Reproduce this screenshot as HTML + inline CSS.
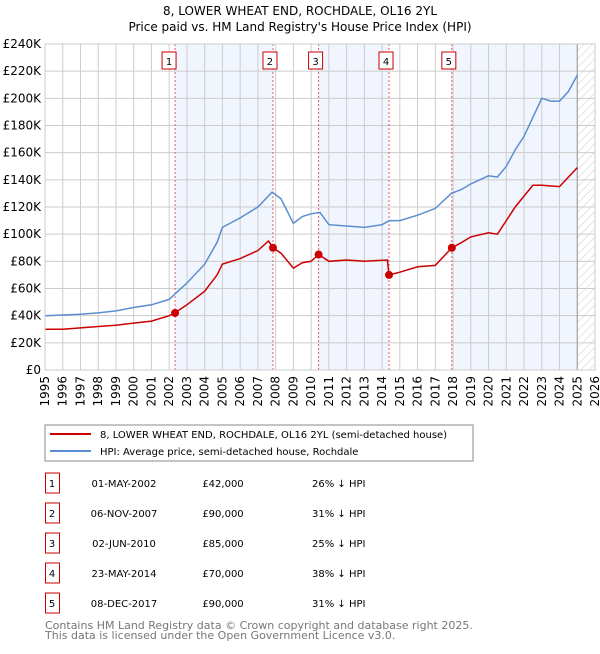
<!DOCTYPE html>
<html><head><meta charset="utf-8"><style>
body{margin:0;background:#fff;font-family:"DejaVu Sans","Liberation Sans",sans-serif;}
svg text{font-family:"DejaVu Sans","Liberation Sans",sans-serif;}
</style></head><body>
<svg id="c" width="600" height="650" xmlns="http://www.w3.org/2000/svg">
<defs><pattern id="hatch" width="6" height="6" patternUnits="userSpaceOnUse" patternTransform="rotate(45)"><line x1="0" y1="0" x2="0" y2="6" stroke="#ccc" stroke-width="1"/></pattern></defs>
<text x="300" y="15" text-anchor="middle" font-size="12">8, LOWER WHEAT END, ROCHDALE, OL16 2YL</text>
<text x="300" y="31" text-anchor="middle" font-size="12">Price paid vs. HM Land Registry's House Price Index (HPI)</text>
<g id="plot"></g>
<rect x="45" y="425" width="428" height="36" fill="#fff" stroke="#888"/>
<line x1="50" y1="434" x2="91" y2="434" stroke="#cc0000" stroke-width="2"/>
<text x="100" y="438" font-size="10">8, LOWER WHEAT END, ROCHDALE, OL16 2YL (semi-detached house)</text>
<line x1="50" y1="451" x2="91" y2="451" stroke="#5b8ed0" stroke-width="2"/>
<text x="100" y="455" font-size="10">HPI: Average price, semi-detached house, Rochdale</text>
<g id="table"></g>
<text x="45" y="629" font-size="11" fill="#777">Contains HM Land Registry data © Crown copyright and database right 2025.</text>
<text x="45" y="639" font-size="11" fill="#777">This data is licensed under the Open Government Licence v3.0.</text>
</svg>
<script>
const hpiYears=[1995,1996,1997,1998,1999,2000,2001,2002,2002.33,2003,2004,2004.7,2005,2006,2007,2007.8,2008.3,2009,2009.5,2010,2010.5,2011,2012,2013,2014,2014.4,2015,2016,2017,2017.9,2018.5,2019,2020,2020.5,2021,2021.5,2022,2022.5,2023,2023.5,2024,2024.5,2025];
const hpiValues=[40,40.5,41,42,43.5,46,48,52,56,64,78,94,105,112,120,131,126,108,113,115,116,107,106,105,107,110,110,114,119,130,133,137,143,142,150,162,172,186,200,198,198,205,217];
const priceYears=[1995,1996,1997,1998,1999,2000,2001,2002,2002.33,2003,2004,2004.7,2005,2006,2007,2007.6,2007.85,2008.3,2009,2009.5,2010,2010.42,2011,2012,2013,2014.3,2014.39,2015,2016,2017,2017.93,2018.5,2019,2020,2020.5,2021,2021.5,2022,2022.5,2023,2024,2024.5,2025];
const priceValues=[30,30,31,32,33,34.5,36,40,42,48,58,70,78,82,88,95,90,86,75,79,80,85,80,81,80,81,70,72,76,77,90,94,98,101,100,110,120,128,136,136,135,142,149];
const saleLabels=["1","2","3","4","5"];
const saleYears=[2002.33,2007.85,2010.42,2014.39,2017.93];
const salePrices=[42,90,85,70,90];
const saleDates=["01-MAY-2002","06-NOV-2007","02-JUN-2010","23-MAY-2014","08-DEC-2017"];
const salePriceText=["£42,000","£90,000","£85,000","£70,000","£90,000"];
const saleHpiText=["26% ↓ HPI","31% ↓ HPI","25% ↓ HPI","38% ↓ HPI","31% ↓ HPI"];
const yTicks=[0,20,40,60,80,100,120,140,160,180,200,220,240];
const yTickLabels=["£0","£20K","£40K","£60K","£80K","£100K","£120K","£140K","£160K","£180K","£200K","£220K","£240K"];
const xTicks=[1995,1996,1997,1998,1999,2000,2001,2002,2003,2004,2005,2006,2007,2008,2009,2010,2011,2012,2013,2014,2015,2016,2017,2018,2019,2020,2021,2022,2023,2024,2025,2026];

const NS="http://www.w3.org/2000/svg";
const X0=45,X1=595,Y0=370,Y1=44;
const xs=y=>X0+(y-1995)/(2026-1995)*(X1-X0);
const ys=v=>Y0-v/240*(Y0-Y1);
const plot=document.getElementById('plot');
function mk(tag,attrs,parent){const e=document.createElementNS(NS,tag);for(const k in attrs)e.setAttribute(k,attrs[k]);(parent||plot).appendChild(e);return e;}

let e=mk('rect',{x:X0,y:Y1,width:X1-X0,height:Y0-Y1,fill:'#fff'});


const shades=[[0,1],[2,3]];
shades.forEach(([a,b])=>{const r=mk('rect',{x:xs(saleYears[a]),y:Y1,width:xs(saleYears[b])-xs(saleYears[a]),height:Y0-Y1,fill:'#eef3fc',opacity:0.8});

});
e=mk('rect',{x:xs(saleYears[4]),y:Y1,width:xs(2025)-xs(saleYears[4]),height:Y0-Y1,fill:'#eef3fc',opacity:0.8});


e=mk('rect',{x:xs(2025),y:Y1,width:X1-xs(2025),height:Y0-Y1,fill:'url(#hatch)'});



xTicks.forEach(t=>{const l=mk('line',{x1:xs(t),x2:xs(t),y1:Y1,y2:Y0,stroke:'#ccc','stroke-width':1});


const px=xs(t)+4,py=Y0+6;
const tx=mk('text',{x:px,y:py,'text-anchor':'end','font-size':12,transform:`rotate(-90 ${px} ${py})`});tx.textContent=t;

});
yTicks.forEach((t,i)=>{const l=mk('line',{x1:X0,x2:X1,y1:ys(t),y2:ys(t),stroke:'#ccc','stroke-width':1});


const tx=mk('text',{x:X0-4,y:ys(t)+4,'text-anchor':'end','font-size':12});tx.textContent=yTickLabels[i];

});
e=mk('line',{x1:xs(2025),x2:xs(2025),y1:Y1,y2:Y0,stroke:'#999','stroke-width':1});



saleYears.forEach((y,i)=>{const l=mk('line',{x1:xs(y),x2:xs(y),y1:Y1,y2:Y0,stroke:'#e06060','stroke-width':1,'stroke-dasharray':'2,2'});


const b=mk('rect',{x:xs(y)-10-(i==0?3:0),y:52,width:14,height:17,fill:'#fff',stroke:'#cc0000'});


const t=mk('text',{x:xs(y)-3-(i==0?3:0),y:65,'text-anchor':'middle','font-size':10});t.textContent=saleLabels[i];

});

const path=(yrs,vals)=>yrs.map((y,i)=>(i?'L':'M')+xs(y).toFixed(1)+','+ys(vals[i]).toFixed(1)).join(' ');
e=mk('path',{d:path(hpiYears,hpiValues),fill:'none',stroke:'#5b8ed0','stroke-width':1.5});


e=mk('path',{d:path(priceYears,priceValues),fill:'none',stroke:'#cc0000','stroke-width':1.5});


saleYears.forEach((y,i)=>{const c=mk('circle',{cx:xs(y),cy:ys(salePrices[i]),r:4,fill:'#cc0000'});

});
e=mk('rect',{x:X0,y:Y1,width:X1-X0,height:Y0-Y1,fill:'none',stroke:'#ccc'});



const tbl=document.getElementById('table');
saleLabels.forEach((s,i)=>{const cy=483+i*30;
const b=mk('rect',{x:45.5,y:cy-10,width:14,height:20,fill:'#fff',stroke:'#cc0000'},tbl);


const cells=[[52,s,'middle'],[124,saleDates[i],'middle'],[223,salePriceText[i],'middle'],[312,saleHpiText[i],'start']];
cells.forEach(([x,txt,a],j)=>{const t=mk('text',{x:x,y:cy+4,'text-anchor':a,'font-size':10},tbl);t.textContent=txt;

});});
</script>
</body></html>
